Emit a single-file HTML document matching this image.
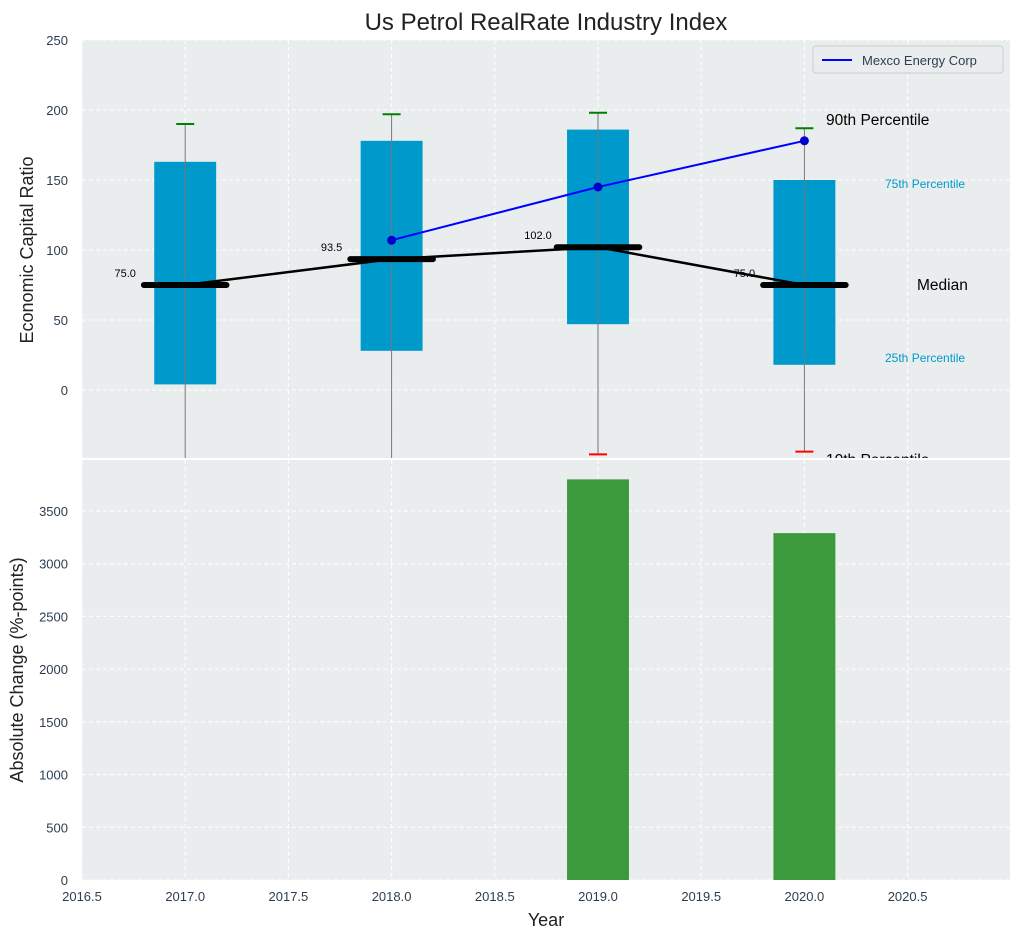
<!DOCTYPE html>
<html><head><meta charset="utf-8"><style>
body{margin:0;background:#fff;}
svg{display:block;font-family:"Liberation Sans",sans-serif;}
</style></head><body>
<svg id="chart" width="1020" height="940"></svg>
<script>
const years=[2017,2018,2019,2020];
const q1=[4,28,47,18];
const q3=[163,178,186,150];
const p90=[190,197,198,187];
const p10=[-60,-60,-46,-44];
const medians=[75,93.5,102,75];
const medianLabels=["75.0","93.5","102.0","75.0"];
const companyYears=[2018,2019,2020];
const companyVals=[107,145,178];
const barYears=[2019,2020];
const barVals=[3800,3290];
const xTicks=[2016.5,2017,2017.5,2018,2018.5,2019,2019.5,2020,2020.5];
const yTopTicks=[0,50,100,150,200,250];
const yBotTicks=[0,500,1000,1500,2000,2500,3000,3500];

const NS="http://www.w3.org/2000/svg";
const svg=document.getElementById('chart');
const L=82,R=1010,T1=40,B1=458,T2=460,B2=880;
const xs=v=>L+(v-2016.5)*206.4;
const yT=v=>390-v*1.4;
const yB=v=>880-v*(369/3500);
function el(tag,attrs,parent){const e=document.createElementNS(NS,tag);for(const k in attrs)e.setAttribute(k,attrs[k]);(parent||svg).appendChild(e);return e;}
function txt(s,attrs,parent){const t=el('text',attrs,parent);t.textContent=s;return t;}

const defs=el('defs',{});
const c1=el('clipPath',{id:'c1'},defs);el('rect',{x:L,y:T1,width:R-L,height:B1-T1},c1);
const c2=el('clipPath',{id:'c2'},defs);el('rect',{x:L,y:T2,width:R-L,height:B2-T2},c2);

const p1=el('rect',{x:L,y:T1,width:R-L,height:B1-T1,fill:'#eaedee'});


const p2=el('rect',{x:L,y:T2,width:R-L,height:B2-T2,fill:'#eaedee'});



const gTop=el('g',{'clip-path':'url(#c1)'});
const gBot=el('g',{'clip-path':'url(#c2)'});
xTicks.forEach(v=>{
  el('line',{x1:xs(v),x2:xs(v),y1:T1,y2:B1,stroke:'#fff','stroke-dasharray':'4,3'},gTop);
  el('line',{x1:xs(v),x2:xs(v),y1:T2,y2:B2,stroke:'#fff','stroke-dasharray':'4,3'},gBot);
  const t=txt(v.toFixed(1),{x:xs(v),y:901,'text-anchor':'middle','font-size':13,fill:'#2e3e50'});
  
  
});
yTopTicks.forEach(v=>{
  el('line',{x1:L,x2:R,y1:yT(v),y2:yT(v),stroke:'#fff','stroke-dasharray':'4,3'},gTop);
  const t=txt(String(v),{x:L-14,y:yT(v)+5,'text-anchor':'end','font-size':13,fill:'#2e3e50'});
  
  
});
yBotTicks.forEach(v=>{
  el('line',{x1:L,x2:R,y1:yB(v),y2:yB(v),stroke:'#fff','stroke-dasharray':'4,3'},gBot);
  const t=txt(String(v),{x:L-14,y:yB(v)+5,'text-anchor':'end','font-size':13,fill:'#2e3e50'});
  
  
});

years.forEach((y,i)=>{
  const x=xs(y),w=0.3*206.4;
  const b=el('rect',{x:x-w/2,y:yT(q3[i]),width:w,height:yT(q1[i])-yT(q3[i]),fill:'#0099cc'},gTop);
  
  
  el('line',{x1:x,x2:x,y1:yT(p90[i]),y2:yT(p10[i]),stroke:'#777','stroke-width':1},gTop);
  el('line',{x1:x-9,x2:x+9,y1:yT(p90[i]),y2:yT(p90[i]),stroke:'green','stroke-width':2},gTop);
  el('line',{x1:x-9,x2:x+9,y1:yT(p10[i]),y2:yT(p10[i]),stroke:'red','stroke-width':2},gTop);
});
const medLine=el('polyline',{points:years.map((y,i)=>xs(y)+','+yT(medians[i])).join(' '),fill:'none',stroke:'#000','stroke-width':2.5},gTop);


years.forEach((y,i)=>{
  const x=xs(y);
  const m=el('line',{x1:x-0.2*206.4,x2:x+0.2*206.4,y1:yT(medians[i]),y2:yT(medians[i]),stroke:'#000','stroke-width':6,'stroke-linecap':'round'},gTop);
  
  
  const t=txt(medianLabels[i],{x:x-60,y:yT(medians[i])-8,'text-anchor':'middle','font-size':11,fill:'#000'},gTop);
  
  
});
const comp=el('polyline',{points:companyYears.map((y,i)=>xs(y)+','+yT(companyVals[i])).join(' '),fill:'none',stroke:'#0000ff','stroke-width':2},gTop);


companyYears.forEach((y,i)=>{
  const c=el('circle',{cx:xs(y),cy:yT(companyVals[i]),r:4.5,fill:'#0000cc'},gTop);
  
  
});
const ann=[["90th Percentile",826,125,15.5,'#000'],["75th Percentile",885,188,12,'#0099cc'],["Median",917,290,15.5,'#000'],["25th Percentile",885,362,12,'#0099cc'],["10th Percentile",826,465,15.5,'#000']];
ann.forEach(a=>{
  const t=txt(a[0],{x:a[1],y:a[2],'font-size':a[3],fill:a[4]},gTop);
  
  
});
const lg=el('g',{});


el('rect',{x:813,y:46,width:190,height:27,fill:'#eaedee',stroke:'#ccc',rx:3},lg);
el('line',{x1:822,x2:852,y1:60,y2:60,stroke:'#0000ff','stroke-width':2},lg);
txt('Mexco Energy Corp',{x:862,y:65,'font-size':13,fill:'#2e3e50'},lg);

barYears.forEach((y,i)=>{
  const w=0.3*206.4;
  const b=el('rect',{x:xs(y)-w/2,y:yB(barVals[i]),width:w,height:B2-yB(barVals[i]),fill:'#3c9a3c'},gBot);
  
  
});

let t=txt('Us Petrol RealRate Industry Index',{x:546,y:30,'text-anchor':'middle','font-size':24,fill:'#222'});

t=txt('Economic Capital Ratio',{x:33,y:250,'text-anchor':'middle','font-size':18,fill:'#222',transform:'rotate(-90 33 250)'});

t=txt('Absolute Change (%-points)',{x:23,y:670,'text-anchor':'middle','font-size':18,fill:'#222',transform:'rotate(-90 23 670)'});

t=txt('Year',{x:546,y:926,'text-anchor':'middle','font-size':18,fill:'#222'});

</script>
</body></html>
